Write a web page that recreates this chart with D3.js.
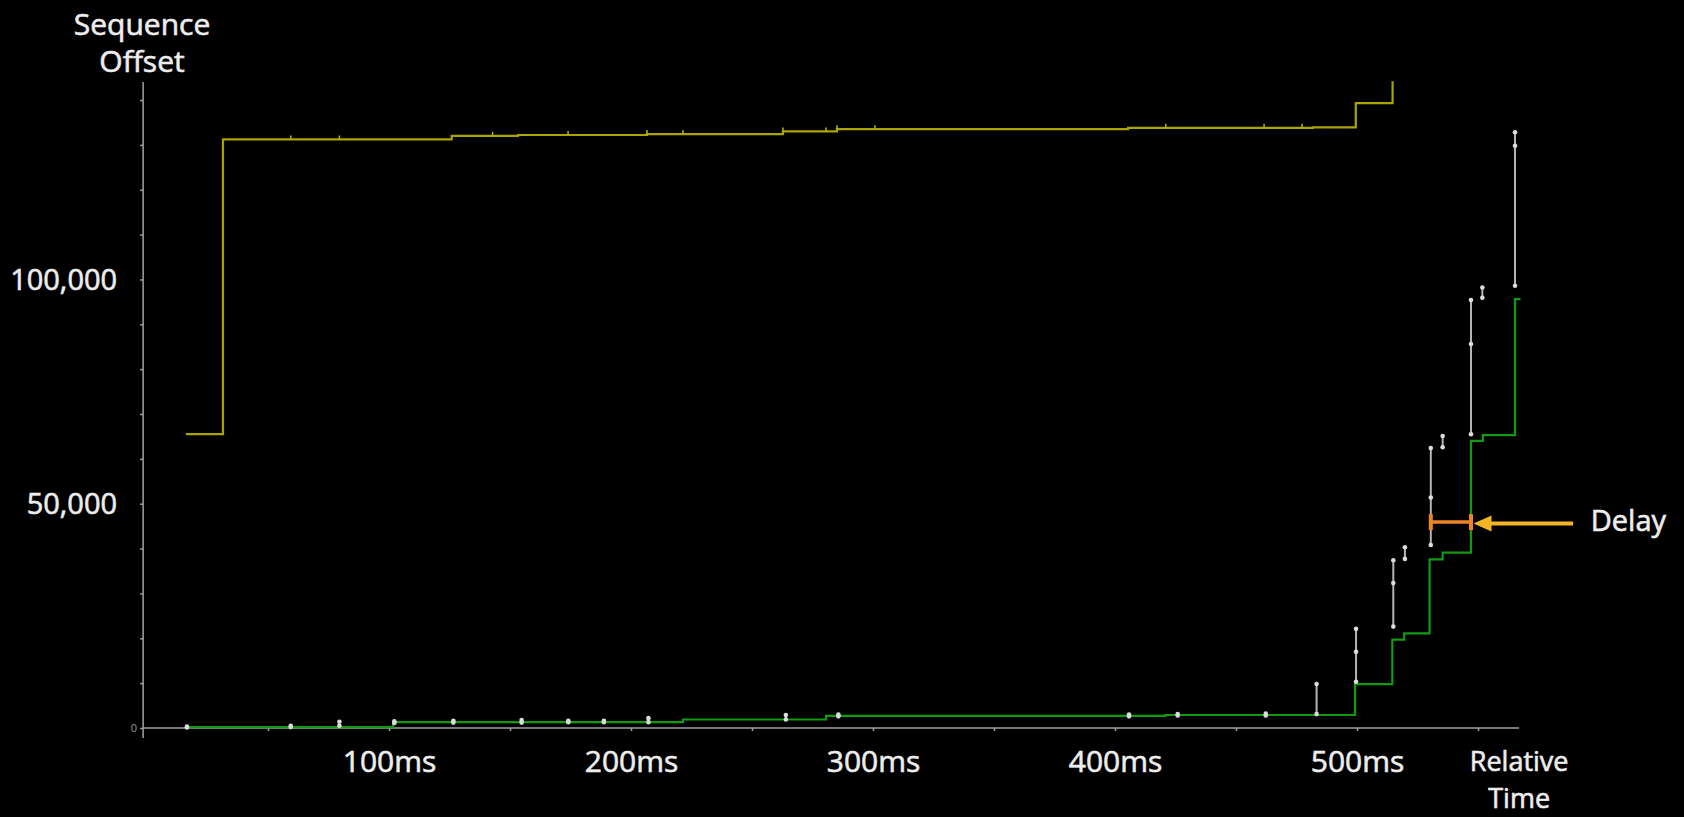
<!DOCTYPE html>
<html>
<head>
<meta charset="utf-8">
<script src="https://cdn.jsdelivr.net/npm/d3@7"></script>
<style>
  html, body { margin: 0; padding: 0; background: #000; }
  svg { display: block; }
  text { font-family: "Open Sans", "Noto Sans", sans-serif; }
  .big { stroke: #ededed; stroke-width: 0.6px; }
</style>
</head>
<body>
<svg id="chart" width="1684" height="817"></svg>
<script>
// ---- Data (time in ms, sequence offset in bytes) ----
const yellowTime = [16.1, 31.4, 125.9, 153.3, 206.6, 262.8, 285.1, 405.4, 481.8, 499.5, 514.7];
const yellowSeq  = [65500, 131200, 132000, 132200, 132400, 133000, 133500, 133800, 133900, 139300, 144200];

const greenTime = [16.9, 101.7, 221.5, 280.6, 420.7, 499.2, 514.6, 519.5, 530.0, 535.4, 547.1, 552.0, 565.3, 567.6];
const greenSeq  = [200, 1300, 1900, 2700, 2900, 9800, 19700, 21100, 37600, 39100, 64000, 65300, 95600, 95600];

const barTime = [16.5, 59.4, 79.5, 102.2, 126.6, 154.8, 174.1, 188.8, 207.2, 264.0, 285.7, 405.8, 425.9, 462.3,
                 483.3, 499.6, 515.0, 519.8, 530.5, 535.4, 547.1, 551.8, 565.3];
const barLow   = [100, 200, 500, 1100, 1200, 1200, 1300, 1300, 1300, 1900, 2600, 2600, 2800, 2800,
                  3100, 10300, 22600, 37700, 40800, 62600, 65500, 95900, 98600];
const barHigh  = [300, 500, 1400, 1500, 1600, 1800, 1600, 1600, 2200, 2900, 3000, 3000, 3100, 3200,
                  9800, 22100, 37400, 40300, 62400, 65100, 95400, 98200, 132800];
const barMid   = [null, null, null, null, null, null, null, null, null, null, null, null, null, null,
                  null, 17000, 32300, null, 51400, null, 85600, null, 129800];

const yellowTickTime = [59.4, 79.5, 142.8, 174.0, 206.6, 221.5, 262.8, 280.6, 285.1, 300.8, 421.0, 461.6, 477.3];

const xTickValues = [50, 100, 150, 200, 250, 300, 350, 400, 450, 500, 550];
const xTickLabels = {100: "100ms", 200: "200ms", 300: "300ms", 400: "400ms", 500: "500ms"};
const yTickValues = [0, 10000, 20000, 30000, 40000, 50000, 60000, 70000, 80000, 90000, 100000, 110000, 120000, 130000, 140000];
const yTickLabels = {0: "0", 50000: "50,000", 100000: "100,000"};

const delayStart = 530.5, delayEnd = 547.1, delaySeq = 45900;
const arrowTailTime = 589.3, delayTextTime = 596.6;

// ---- Layout ----
const svg = d3.select("#chart");
const x = d3.scaleLinear().domain([0, 550]).range([147, 1478]);
const y = d3.scaleLinear().domain([0, 140000]).range([728, 100]);
const axisColor = "#a0a0a0";
const textColor = "#ededed";

svg.append("rect").attr("width", 1684).attr("height", 817).attr("fill", "#000");

// Axes lines
svg.append("line")
  .attr("x1", x(-1.6)).attr("x2", x(-1.6))
  .attr("y1", y(144000)).attr("y2", y(0) + 10)
  .attr("stroke", axisColor).attr("stroke-width", 1.5);
svg.append("line")
  .attr("x1", x(-1.6)).attr("x2", x(567))
  .attr("y1", y(0)).attr("y2", y(0))
  .attr("stroke", axisColor).attr("stroke-width", 1.5);

// X axis ticks + labels
const xAxis = d3.axisBottom(x).tickValues(xTickValues).tickSize(3).tickSizeOuter(0)
  .tickFormat(d => xTickLabels[d] || "");
const gx = svg.append("g").attr("transform", `translate(0,${y(0)})`).call(xAxis);
gx.select(".domain").remove();
gx.selectAll(".tick line").attr("stroke", axisColor).attr("stroke-width", 1.5);
gx.selectAll(".tick text").attr("class", "big").attr("fill", textColor).attr("font-size", 30)
  .attr("y", 44).attr("dy", 0);

// Y axis ticks + labels
const yAxis = d3.axisLeft(y).tickValues(yTickValues).tickSize(3).tickSizeOuter(0)
  .tickFormat(d => yTickLabels[d] || "");
const gy = svg.append("g").attr("transform", `translate(${x(-1.6)},0)`).call(yAxis);
gy.select(".domain").remove();
gy.selectAll(".tick line").attr("stroke", axisColor).attr("stroke-width", 1.5);
gy.selectAll(".tick text")
  .attr("class", d => d === 0 ? null : "big")
  .attr("fill", d => d === 0 ? "#999" : textColor)
  .attr("font-size", d => d === 0 ? 11 : 29)
  .attr("x", d => d === 0 ? -6 : -26)
  .attr("dy", "0.35em");

// Axis titles
const yTitle = svg.append("text").attr("class", "big").attr("fill", textColor).attr("font-size", 30).attr("text-anchor", "middle");
yTitle.append("tspan").attr("x", 142).attr("y", 35).text("Sequence");
yTitle.append("tspan").attr("x", 142).attr("y", 72).text("Offset");
const xTitle = svg.append("text").attr("class", "big").attr("fill", textColor).attr("font-size", 27).attr("text-anchor", "middle");
xTitle.append("tspan").attr("x", x(567)).attr("y", 771).text("Relative");
xTitle.append("tspan").attr("x", x(567)).attr("y", 808).text("Time");

// Step lines
const step = d3.line().x(d => x(d[0])).y(d => y(d[1])).curve(d3.curveStepAfter);
const yellowPts = yellowTime.map((t, i) => [t, yellowSeq[i]]);
const greenPts = greenTime.map((t, i) => [t, greenSeq[i]]);

svg.append("path").attr("d", step(greenPts))
  .attr("fill", "none").attr("stroke", "#139a13").attr("stroke-width", 2.2);
svg.append("path").attr("d", step(yellowPts))
  .attr("fill", "none").attr("stroke", "#a9a400").attr("stroke-width", 2.2);

// Small tick marks on the yellow line
const bis = d3.bisector(d => d).right;
svg.append("g").selectAll("line").data(yellowTickTime).join("line")
  .attr("x1", d => x(d)).attr("x2", d => x(d))
  .attr("y1", d => y(yellowSeq[Math.max(0, bis(yellowTime, d) - 1)]))
  .attr("y2", d => y(yellowSeq[Math.max(0, bis(yellowTime, d) - 1)]) - 4)
  .attr("stroke", "#b8b400").attr("stroke-width", 1.5);

// Gray I-bars (packets)
const bars = barTime.map((t, i) => ({t, lo: barLow[i], hi: barHigh[i], mid: barMid[i]}));
const gb = svg.append("g");
gb.selectAll("line").data(bars).join("line")
  .attr("x1", d => x(d.t)).attr("x2", d => x(d.t))
  .attr("y1", d => y(d.lo)).attr("y2", d => y(d.hi))
  .attr("stroke", "#b4b4b4").attr("stroke-width", 2);
const dots = [];
bars.forEach(d => { dots.push([d.t, d.lo]); dots.push([d.t, d.hi]); if (d.mid !== null) dots.push([d.t, d.mid]); });
gb.selectAll("circle").data(dots).join("circle")
  .attr("cx", d => x(d[0])).attr("cy", d => y(d[1])).attr("r", 2.3)
  .attr("fill", "#dcdcdc");

// Delay annotation
const ya = y(delaySeq);
const orange = "#ee8424";
svg.append("line").attr("x1", x(delayStart)).attr("x2", x(delayEnd)).attr("y1", ya).attr("y2", ya)
  .attr("stroke", orange).attr("stroke-width", 3.5);
[delayStart, delayEnd].forEach(t => {
  svg.append("line").attr("x1", x(t)).attr("x2", x(t)).attr("y1", ya - 8).attr("y2", ya + 8)
    .attr("stroke", orange).attr("stroke-width", 4);
});
const gold = "#f2b526";
const tipX = x(delayEnd) + 2.5, ay = ya + 1.5;
svg.append("line").attr("x1", tipX + 15).attr("x2", x(arrowTailTime)).attr("y1", ay).attr("y2", ay)
  .attr("stroke", gold).attr("stroke-width", 4);
svg.append("path")
  .attr("d", `M${tipX},${ay} L${tipX + 18},${ay - 8} L${tipX + 18},${ay + 8} Z`)
  .attr("fill", gold);
svg.append("text").attr("class", "big").attr("x", x(delayTextTime)).attr("y", ay).attr("dy", "0.25em")
  .attr("fill", textColor).attr("font-size", 29).text("Delay");
</script>
</body>
</html>
